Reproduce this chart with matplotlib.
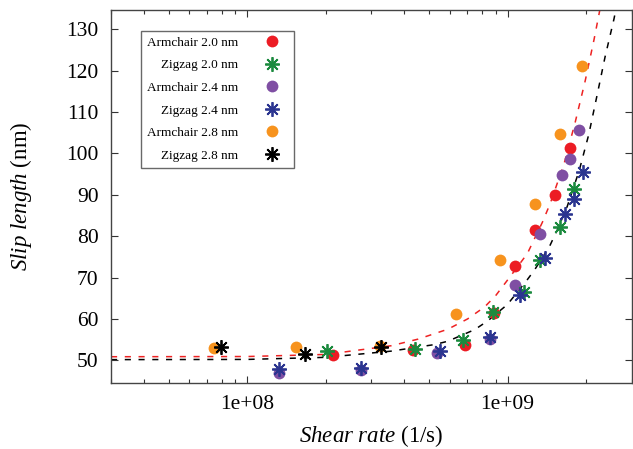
"""Slip length vs shear rate.
"""
import numpy as np
import matplotlib
matplotlib.use("Agg")
import matplotlib.pyplot as plt
from matplotlib.ticker import FixedLocator, NullFormatter, FixedFormatter

plt.rcParams["font.family"] = ["Liberation Serif", "DejaVu Serif"]
plt.rcParams["mathtext.fontset"] = "custom"
plt.rcParams["mathtext.rm"] = "Liberation Serif"
plt.rcParams["mathtext.it"] = "Liberation Serif:italic"


#### Data.
arm20_x = [2.13e8, 4.34e8, 6.85e8, 8.85e8, 1.073e9, 1.279e9, 1.526e9, 1.741e9]
arm20_y = [51.3, 52.4, 53.6, 61.5, 72.7, 81.4, 90.0, 101.3]
zig20_x = [2.02e8, 4.41e8, 6.73e8, 8.77e8, 1.161e9, 1.337e9, 1.594e9, 1.803e9]
zig20_y = [52.3, 52.6, 54.8, 61.6, 66.6, 74.3, 82.2, 91.3]
arm24_x = [1.32e8, 2.74e8, 5.36e8, 8.53e8, 1.073e9, 1.337e9, 1.622e9, 1.741e9, 1.884e9]
arm24_y = [46.8, 47.7, 51.8, 55.2, 68.3, 80.4, 94.8, 98.6, 105.7]
zig24_x = [1.33e8, 2.74e8, 5.50e8, 8.53e8, 1.121e9, 1.397e9, 1.666e9, 1.803e9, 1.951e9]
zig24_y = [48.0, 48.2, 52.2, 55.6, 65.8, 74.8, 85.3, 88.9, 95.4]
arm28_x = [7.46e7, 1.535e8, 3.24e8, 6.33e8, 9.32e8, 1.279e9, 1.594e9, 1.935e9]
arm28_y = [53.0, 53.2, 53.4, 61.1, 74.3, 87.8, 104.6, 121.2]
zig28_x = [7.93e7, 1.662e8, 3.27e8]
zig28_y = [53.3, 51.5, 53.2]

# dashed fit curves
fit_red_x = [3.0e7, 1.0e8, 2.0e8, 3.57e8, 4.53e8, 5.90e8, 7.03e8, 8.17e8, 9.0e8,
             1.026e9, 1.192e9, 1.36e9, 1.459e9, 1.651e9, 1.819e9, 1.987e9, 2.149e9, 2.30e9]
fit_red_y = [50.85, 50.9, 51.4, 53.5, 55.1, 57.5, 60.0, 62.9, 65.6,
             70.3, 75.8, 83.3, 87.9, 97.6, 107.5, 117.5, 127.5, 137.0]
fit_blk_x = [3.0e7, 1.0e8, 2.0e8, 3.57e8, 5.26e8, 5.90e8, 7.48e8, 8.39e8, 1.0e9,
             1.192e9, 1.269e9, 1.447e9, 1.553e9, 1.696e9, 1.884e9, 2.05e9, 2.207e9, 2.369e9,
             2.564e9, 2.65e9]
fit_blk_y = [50.15, 50.2, 50.7, 52.2, 53.8, 54.6, 57.4, 59.5, 63.5,
             69.5, 71.8, 77.4, 81.5, 87.2, 95.8, 104.5, 114.0, 123.3,
             132.5, 137.0]

series = [
    ("Armchair 2.0 nm", arm20_x, arm20_y, "o", "#ec1c24"),
    ("Zigzag 2.0 nm", zig20_x, zig20_y, (8, 2, 0), "#1b8a3e"),
    ("Armchair 2.4 nm", arm24_x, arm24_y, "o", "#7f4fa3"),
    ("Zigzag 2.4 nm", zig24_x, zig24_y, (8, 2, 0), "#2b3590"),
    ("Armchair 2.8 nm", arm28_x, arm28_y, "o", "#f7931e"),
    ("Zigzag 2.8 nm", zig28_x, zig28_y, (8, 2, 0), "#000000"),
]

#### Draw.
fig = plt.figure(figsize=(6.33, 4.49), dpi=100)
ax = fig.add_axes([0.1754, 0.147, 0.8226, 0.831])

ax.plot(fit_red_x, fit_red_y, color="#ee2222", lw=1.1, dashes=(4, 5), zorder=1)
ax.plot(fit_blk_x, fit_blk_y, color="black", lw=1.1, dashes=(4, 5), zorder=1)

for label, xs, ys, mk, col in series:
    if mk == "o":
        ax.plot(xs, ys, ls="none", marker="o", ms=8.5, mfc=col, mec=col, mew=0,
                label=label, zorder=3)
    else:
        ax.plot(xs, ys, ls="none", marker=mk, ms=10.5, mec=col, mew=1.3,
                label=label, zorder=4)

# axes
ax.set_xscale("log")
ax.set_xlim(3e7, 3e9)
ax.set_ylim(44.5, 134.7)
ax.xaxis.set_major_locator(FixedLocator([1e8, 1e9]))
ax.xaxis.set_major_formatter(FixedFormatter(["1e+08", "1e+09"]))
minors = [m * 10 ** e for e in (7, 8, 9) for m in range(2, 10)]
ax.xaxis.set_minor_locator(FixedLocator(minors))
ax.xaxis.set_minor_formatter(NullFormatter())
ax.yaxis.set_major_locator(plt.MultipleLocator(10))
ax.tick_params(axis="both", which="both", direction="in", top=True, right=True,
               labelsize=15.5, width=0.8, color="#333333")
ax.tick_params(axis="both", which="major", length=5)
ax.tick_params(axis="both", which="minor", length=3)
ax.tick_params(axis="y", pad=9)
ax.tick_params(axis="x", pad=9)
for s in ax.spines.values():
    s.set_linewidth(1.0)
    s.set_color("#444444")

ax.set_xlabel(r"$\it{Shear\ rate}$ (1/s)", fontsize=16.5, labelpad=6)
ax.set_ylabel(r"$\it{Slip\ length}$ (nm)", fontsize=16.5, labelpad=23)

leg = ax.legend(loc="upper left", bbox_to_anchor=(0.0575, 0.944), borderaxespad=0,
                markerfirst=False, fontsize=9.5, frameon=True, fancybox=False,
                edgecolor="#444444", labelspacing=0.78, handlelength=2.4,
                handletextpad=1.4, borderpad=0.45, alignment="right")
leg.get_frame().set_linewidth(1.0)
for t in leg.get_texts():
    t.set_ha("right")

#### Export
plt.savefig("out.png", dpi=100)
plt.close()
